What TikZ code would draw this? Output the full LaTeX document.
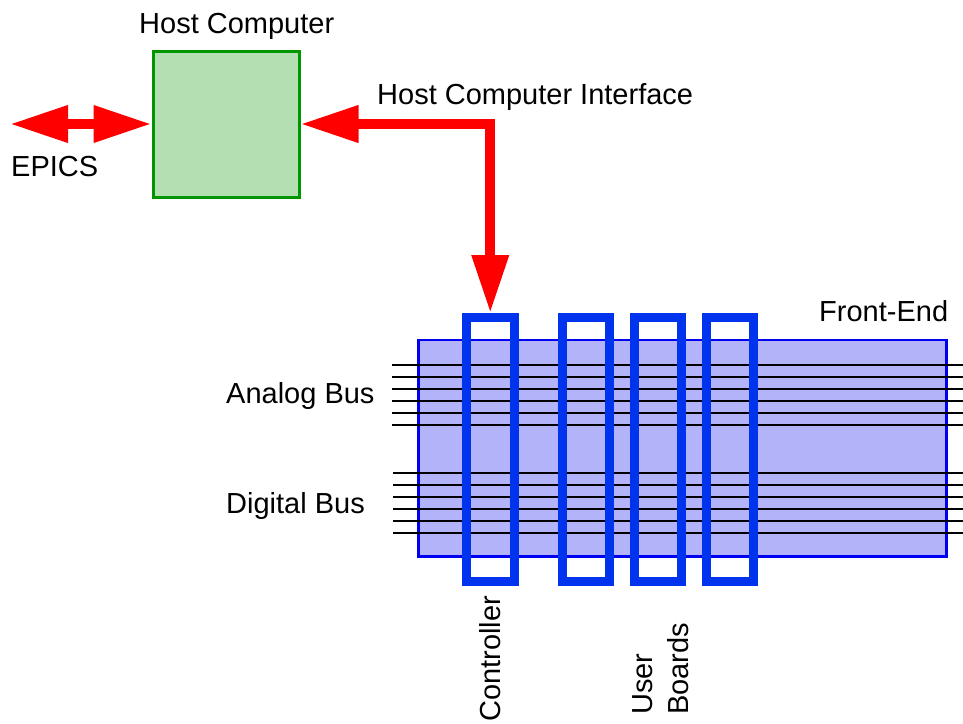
\documentclass[tikz,border=0pt]{standalone}
\usepackage{fontspec}
\setmainfont{Liberation Sans}
\usetikzlibrary{arrows.meta}
\definecolor{hostfill}{RGB}{179,223,179}
\definecolor{hostdraw}{RGB}{0,150,0}
\definecolor{fefill}{RGB}{179,179,250}
\definecolor{fedraw}{RGB}{0,0,240}
\definecolor{boardblue}{RGB}{0,51,238}
\tikzset{
  lbl/.style={font=\fontsize{29}{35}\selectfont, inner sep=0pt, text=black},
  hostbox/.style={draw=hostdraw, fill=hostfill, line width=3pt, minimum width=146pt, minimum height=146pt, inner sep=0pt},
  febox/.style={draw=fedraw, fill=fefill, line width=2.5pt, minimum width=528pt, minimum height=216.7pt, inner sep=0pt},
  board/.style={draw=boardblue, line width=9pt, minimum width=47.5pt, minimum height=264pt, inner sep=0pt},
  busline/.style={draw=black, line width=2.2pt},
  bigarrow/.style={draw=red, line width=10pt, line join=miter,
    {Triangle[length=58pt,width=35pt]}-{Triangle[length=58pt,width=35pt]}},
}
\begin{document}
\begin{tikzpicture}[x=1pt,y=-1pt]
\useasboundingbox (0,0) rectangle (963,723);
% front-end crate
\node[febox] (fe) at (682.25,448.35) {};
% buses
\foreach \yy in {365,377,389,401,413,425} \draw[busline] (392,\yy) -- (963,\yy);
\foreach \yy in {473,485,497,509,521,533} \draw[busline] (393,\yy) -- (963,\yy);
% boards
\node[board] (ctrl) at (490.25,449.5) {};
\node[board] (ub1) at (586,449.5) {};
\node[board] (ub2) at (657.75,449.5) {};
\node[board] (ub3) at (729.75,449.5) {};
% host
\node[hostbox] (host) at (226,124) {};
\coordinate (epicsend) at (10,124);
% arrows
\draw[bigarrow] (epicsend) -- (host.west);
\draw[bigarrow] (host.east) -| (ctrl.north);
% labels
\node[lbl, anchor=base west] (hostlbl) at (139,33) {Host Computer};
\node[lbl, anchor=base west] (hcilbl) at (377,104) {Host Computer Interface};
\node[lbl, anchor=base west] (epicslbl) at (11,176) {EPICS};
\node[lbl, anchor=base west] (felbl) at (819,321) {Front-End};
\node[lbl, anchor=base west] (analbl) at (226,403) {Analog Bus};
\node[lbl, anchor=base west] (diglbl) at (226,513) {Digital Bus};
\node[lbl, anchor=base west, rotate=90] (ctrllbl) at (500,722) {Controller};
\node[lbl, anchor=base west, rotate=90] (userlbl) at (652,715) {User};
\node[lbl, anchor=base west, rotate=90] (boardslbl) at (688,715) {Boards};
\end{tikzpicture}
\end{document}
